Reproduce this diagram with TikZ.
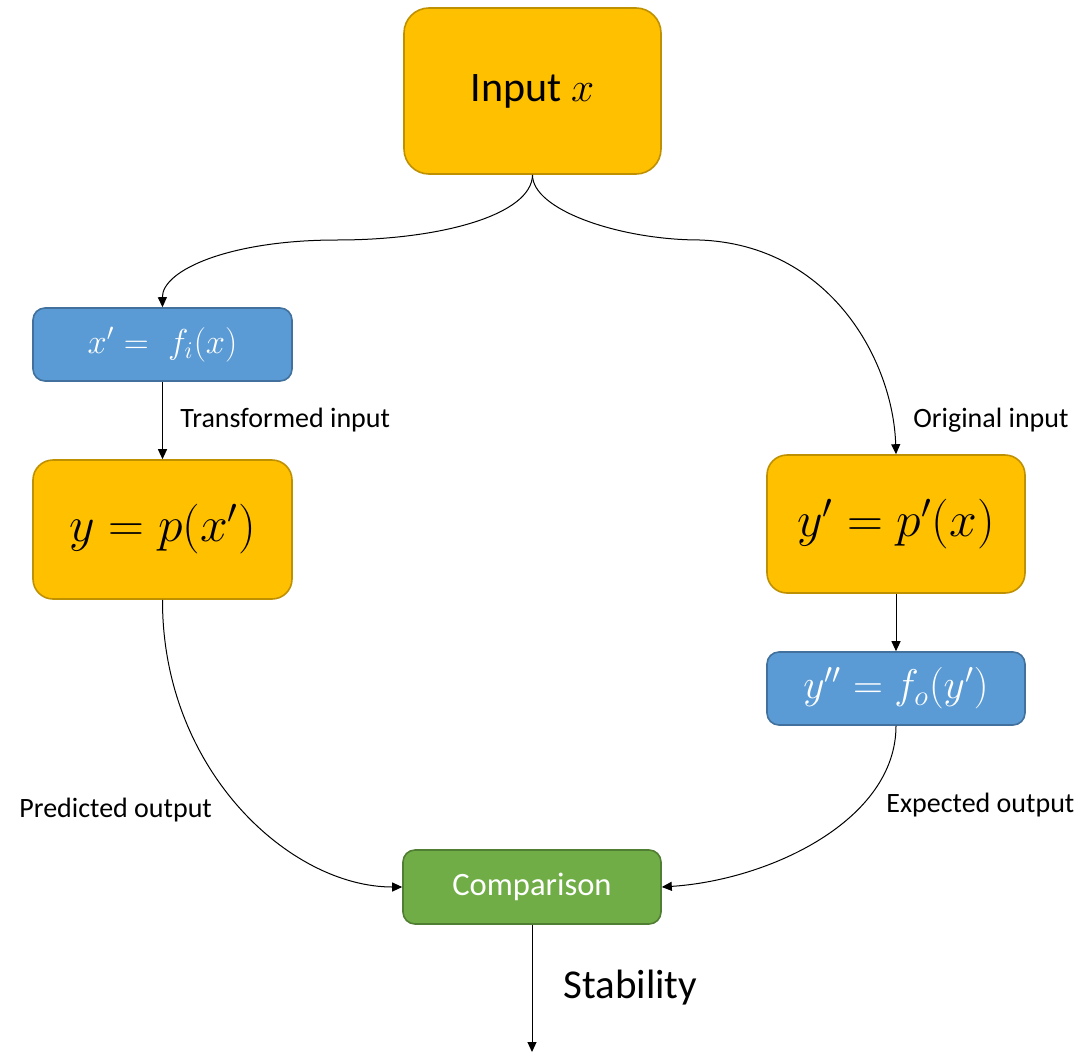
\documentclass[tikz,border=0pt]{standalone}
\usepackage{fontspec}
\setmainfont{Carlito}
\usetikzlibrary{arrows.meta}

\definecolor{gold}{HTML}{FFC000}
\definecolor{goldedge}{HTML}{BF9000}
\definecolor{steel}{HTML}{5B9BD5}
\definecolor{steeledge}{HTML}{41719C}
\definecolor{leaf}{HTML}{70AD47}
\definecolor{leafedge}{HTML}{507E32}

\begin{document}
\begin{tikzpicture}[
  x=0.5pt, y=-0.5pt,
  box/.style={draw, line width=0.8pt, inner sep=0pt, align=center},
  goldbox/.style={box, fill=gold, draw=goldedge, text=black,
    rounded corners=10pt, minimum width=129.5pt, minimum height=69.5pt,
    font=\fontsize{25}{30}\selectfont},
  steelbox/.style={box, fill=steel, draw=steeledge, text=white,
    rounded corners=6pt, minimum width=129.5pt, minimum height=36.5pt,
    font=\fontsize{19}{23}\selectfont},
  leafbox/.style={box, fill=leaf, draw=leafedge, text=white,
    rounded corners=6pt, minimum width=129pt, minimum height=37pt,
    font=\fontsize{16.3}{20}\selectfont},
  conn/.style={draw=black, line width=0.5pt,
    -{Triangle[length=5pt,width=4.5pt]}},
  tag/.style={anchor=west, inner sep=0pt, font=\fontsize{14}{17}\selectfont}
]
\useasboundingbox (0,0) rectangle (1080,1054);

% boxes
\node[goldbox, minimum width=128.5pt, minimum height=83pt, rounded corners=12.5pt,
      font=\fontsize{21}{25}\selectfont] (input) at (532.5,91) {Input $x$};
\node[steelbox, font=\fontsize{18}{22}\selectfont] (fx) at (162.5,344.5) {$x' =\; f_i(x)$};
\node[goldbox] (ypx) at (162.5,529.5) {$y = p(x')$};
\node[goldbox, minimum width=129pt, minimum height=69pt] (yp) at (896,524) {$y' = p'(x)$};
\node[steelbox, minimum width=129pt, font=\fontsize{20}{24}\selectfont] (fo) at (896,688.5) {$y'' = f_o(y')$};
\node[leafbox] (cmp) at (532,887) {Comparison};

% waypoints of the two branches and the free end of the result arrow
\coordinate (lbend) at (337,240);
\coordinate (rbend) at (700,240);
\coordinate (out) at (532,1052);

% connectors
\draw[conn] (input.south) .. controls (532,215) and (440,240) .. (lbend)
            .. controls (230,240) and (162,270) .. (fx.north);
\draw[conn] (input.south) .. controls (532,210) and (620,240) .. (rbend)
            .. controls (830,245) and (893,360) .. (yp.north);
\draw[conn] (fx.south) -- (ypx.north);
\draw[conn] (yp.south) -- (fo.north);
\draw[conn] (ypx.south) .. controls (162,770) and (290,887) .. (cmp.west);
\draw[conn] (fo.south) .. controls (896,820) and (770,880) .. (cmp.east);
\draw[conn] (cmp.south) -- (out);

% labels
\node[tag] (lt) at (180,420) {Transformed input};
\node[tag] (lo) at (913,420) {Original input};
\node[tag] (lp) at (19,810) {Predicted output};
\node[tag] (le) at (886,805) {Expected output};
\node[tag, font=\fontsize{20.5}{24}\selectfont] (ls) at (563,988) {Stability};
\end{tikzpicture}
\end{document}
